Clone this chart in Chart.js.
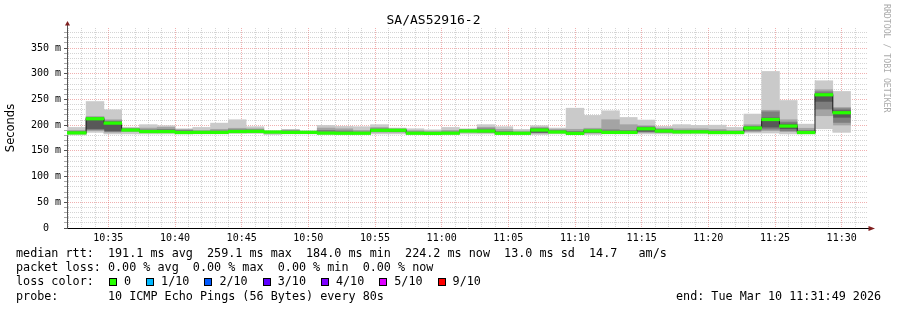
<!DOCTYPE html>
<html>
<head>
<meta charset="utf-8">
<title>SA/AS52916-2</title>
<script src="https://cdn.jsdelivr.net/npm/chart.js@4.4.1/dist/chart.umd.min.js"></script>
<style>
  body { margin: 0; background: #fff; }
  #wrap { position: relative; width: 897px; height: 310px; font-family: 'DejaVu Sans Mono', monospace; font-size: 11.75px; color: #000; }
  #chart { position: absolute; left: 0; top: 0; }
  .row { position: absolute; left: 16px; white-space: pre; line-height: 14px; }
  #lossItems { position: absolute; left: 109px; top: 274px; white-space: pre; line-height: 14px; }
  .item { display: inline-block; margin-right: 15px; }
  .sw { display: inline-block; width: 6px; height: 6px; border: 1px solid #000; margin-right: 7px; vertical-align: -1px; }
  #endTime { position: absolute; left: 676px; top: 289px; white-space: pre; line-height: 14px; }
  #credit { position: absolute; left: 882px; top: 4px; writing-mode: vertical-rl; font-size: 8.2px; color: #aaa; }
</style>
</head>
<body>
<div id="wrap">
  <canvas id="chart" width="897" height="310"></canvas>
  <div class="row" style="top:246px">median rtt:  191.1 ms avg  259.1 ms max  184.0 ms min  224.2 ms now  13.0 ms sd  14.7   am/s</div>
  <div class="row" style="top:260px">packet loss: 0.00 % avg  0.00 % max  0.00 % min  0.00 % now</div>
  <div class="row" style="top:274px">loss color:</div>
  <div id="lossItems"></div>
  <div class="row" style="top:289px">probe:       10 ICMP Echo Pings (56 Bytes) every 80s</div>
  <div id="endTime">end: Tue Mar 10 11:31:49 2026</div>
  <div id="credit">RRDTOOL / TOBI OETIKER</div>
</div>
<script>
// start time of every 80 s probe round
const barStarts = ['10:30:40', '10:32:00', '10:33:20', '10:34:40', '10:36:00', '10:37:20', '10:38:40', '10:40:00',
  '10:41:20', '10:42:40', '10:44:00', '10:45:20', '10:46:40', '10:48:00', '10:49:20', '10:50:40', '10:52:00',
  '10:53:20', '10:54:40', '10:56:00', '10:57:20', '10:58:40', '11:00:00', '11:01:20', '11:02:40', '11:04:00',
  '11:05:20', '11:06:40', '11:08:00', '11:09:20', '11:10:40', '11:12:00', '11:13:20', '11:14:40', '11:16:00',
  '11:17:20', '11:18:40', '11:20:00', '11:21:20', '11:22:40', '11:24:00', '11:25:20', '11:26:40', '11:28:00', '11:29:20'];

// median rtt per round (ms)
const median = [185, 185, 212.5, 204, 190.5, 187.6, 187.6, 185.7, 186, 186, 187.7, 188, 186.6, 186, 186, 184.6,
  184.3, 184.3, 190, 190, 184.3, 184, 184.4, 188.6, 188.6, 184.2, 184.2, 190.5, 186.7, 184, 188.6, 186, 186, 193,
  188.6, 186.9, 187, 185.7, 185.7, 194.4, 211, 198.3, 185.7, 259.1, 224.2];

// lost pings per round (out of 10)
const loss = [0, 0, 0, 0, 0, 0, 0, 0, 0, 0, 0, 0, 0, 0, 0, 0, 0, 0, 0, 0, 0, 0, 0, 0, 0, 0, 0, 0, 0, 0, 0, 0, 0,
  0, 0, 0, 0, 0, 0, 0, 0, 0, 0, 0, 0];

// the 10 sorted ping times of each round (ms), used for the smoke
const pingRows = [
  [181, 182.5, 183.5, 184.5, 184.8, 185.2, 186, 188, 190, 195.6],
  [181, 182.5, 183.5, 184.5, 184.8, 185.2, 186, 188, 190, 195.6],
  [186, 188, 190, 192, 212, 213, 214, 215, 217, 246],
  [183, 185, 186, 188, 203.5, 204.5, 206, 208, 210.6, 230],
  [183, 186, 188, 189.5, 190.2, 190.8, 191.5, 193, 194, 196],
  [183, 185, 186, 187, 187.3, 187.9, 189, 191, 194.4, 201],
  [183, 185, 186, 187, 187.3, 187.9, 189, 192, 196, 199],
  [183, 184, 185, 185.3, 185.5, 185.9, 187, 190, 191.5, 193],
  [183, 184, 185, 185.5, 185.8, 186.2, 187, 188, 190, 195.6],
  [183, 184, 185, 185.5, 185.8, 186.2, 187, 189, 192, 204],
  [184, 185, 186, 187, 187.5, 187.9, 189, 191, 194, 210.6],
  [184, 185, 186, 187, 187.8, 188.2, 189, 191, 193, 197],
  [182, 183, 184, 185.5, 186.4, 186.8, 187.3, 188, 188.5, 189],
  [183, 184, 185, 185.5, 185.8, 186.2, 187, 189, 190.5, 191.8],
  [183, 184, 185, 185.5, 185.8, 186.2, 186.8, 187.5, 188.3, 189],
  [182, 183, 184, 184.3, 184.5, 184.7, 186, 190, 194.4, 199.5],
  [182, 183, 183.5, 184, 184.2, 184.4, 185.5, 189, 193, 197.6],
  [182, 183, 183.5, 184, 184.2, 184.4, 185.5, 187, 190, 197],
  [183, 185, 187, 188.5, 189.8, 190.2, 191, 193, 195.6, 201],
  [183, 185, 186, 187, 189.8, 190.2, 191, 192, 193, 194.4],
  [182, 183, 183.5, 184, 184.2, 184.4, 185.5, 187, 189.5, 193],
  [182, 183, 183.5, 183.8, 183.9, 184.1, 185, 186, 188.5, 191],
  [182, 183, 183.5, 184, 184.2, 184.6, 185.5, 187, 190, 195.6],
  [183, 185, 186.5, 187.5, 188.4, 188.8, 189.5, 190.5, 191.5, 193],
  [183, 184, 185, 186, 188.3, 188.9, 190, 193, 196, 201],
  [182, 183, 183.5, 184, 184.1, 184.3, 185.5, 188, 192, 197],
  [182, 183, 183.5, 184, 184.1, 184.3, 185, 186, 188.5, 191.8],
  [182, 183, 184, 185, 190.3, 190.7, 192, 194, 196, 199],
  [183, 184, 185, 186, 186.5, 186.9, 188, 190, 192, 194.4],
  [182, 183, 183.5, 183.8, 183.9, 184.1, 185, 188, 192, 233],
  [182, 183, 184, 185, 188.4, 188.8, 190, 191, 194, 219],
  [183, 184, 185, 185.5, 185.8, 186.2, 187.5, 191, 210.6, 228],
  [183, 184, 185, 185.5, 185.8, 186.2, 187.5, 190, 201, 215],
  [183, 184.5, 185.5, 187, 192.7, 193.3, 195, 197, 199, 210],
  [183, 184, 185, 186.5, 188.4, 188.8, 190, 192, 194, 197.6],
  [183, 184, 185, 186, 186.7, 187.1, 188, 190, 193, 201],
  [183, 184, 185, 186, 186.8, 187.2, 188, 190, 193, 199.6],
  [183, 184, 184.5, 185, 185.5, 185.9, 187, 189, 192, 200],
  [183, 184, 184.5, 185, 185.5, 185.9, 186.5, 188, 190, 195.6],
  [184.7, 186, 188, 191, 194.2, 194.6, 196, 198, 201, 221.6],
  [184.7, 188, 191, 195, 210.6, 211.4, 214, 226, 229, 304.5],
  [183, 186, 188, 192, 198, 198.6, 202, 206, 210.6, 248],
  [183, 184, 184.5, 185, 185.5, 185.9, 188, 190, 194, 202],
  [193, 217, 230, 245, 259, 259.2, 261, 265, 269, 286.4],
  [186, 199, 204, 214, 224, 224.4, 228, 232, 234.5, 265.6]
];

const timeLabels = ['10:35', '10:40', '10:45', '10:50', '10:55', '11:00', '11:05', '11:10', '11:15', '11:20', '11:25', '11:30'];
const yLabels = [0, 50, 100, 150, 200, 250, 300, 350];
const lossLabels = ['0', '1/10', '2/10', '3/10', '4/10', '5/10', '9/10'];
const lossColors = ['#26ff00', '#00b8ff', '#0059ff', '#5e00ff', '#7e00ff', '#dd00ff', '#ff0000'];
const lossLevels = [0, 1, 2, 3, 4, 5, 9];

const STEP = 80;           // probe interval in seconds
const xMin = '10:31:54';
const xMax = '11:31:54';

function toSec(t) {
    const p = t.split(':').map(Number);
    return p[0] * 3600 + p[1] * 60 + (p[2] || 0);
}

function lossColor(n) {
    let c = lossColors[0];
    lossLevels.forEach((lvl, i) => { if (n >= lvl) c = lossColors[i]; });
    return c;
}

// smokeping shades: darkest near the median, lighter outwards
function smokeShade(k) {
    const half = 5;
    const v = Math.floor(190 / half * Math.abs(half - k)) + 50;
    return 'rgb(' + v + ',' + v + ',' + v + ')';
}

// --- legend swatches ---
const lossBox = document.getElementById('lossItems');
lossLabels.forEach((lbl, i) => {
    const item = document.createElement('span');
    item.className = 'item';
    const sw = document.createElement('span');
    sw.className = 'sw';
    sw.style.background = lossColors[i];
    item.appendChild(sw);
    item.appendChild(document.createTextNode(lbl));
    lossBox.appendChild(item);
});

// --- datasets ---
// bars are not grouped, so each one is as wide as the closest pair of rounds (80 s)
const barOpts = { type: 'bar', xAxisID: 'x', grouped: false, barPercentage: 1, categoryPercentage: 1, borderWidth: 0 };
const datasets = [];

datasets.push(Object.assign({}, barOpts, {
    label: 'median',
    order: 0,
    data: barStarts.map((s, i) => ({ x: toSec(s) + STEP / 2, y: [median[i] - 2.5, median[i] + 2.5] })),
    backgroundColor: loss.map(lossColor)
}));

const medianPts = barStarts.map((s, i) => ({ x: toSec(s), y: median[i] }));
medianPts.push({ x: toSec(barStarts[barStarts.length - 1]) + STEP, y: median[median.length - 1] });
datasets.push({
    type: 'line',
    label: 'median line',
    xAxisID: 'x',
    order: 1,
    data: medianPts,
    stepped: true,
    borderColor: '#202020',
    borderWidth: 1,
    pointRadius: 0,
    fill: false
});

for (let k = 1; k < 10; k++) {
    datasets.push(Object.assign({}, barOpts, {
        label: 'smoke' + k,
        order: 2,
        data: barStarts.map((s, i) => ({ x: toSec(s) + STEP / 2, y: [pingRows[i][k - 1], pingRows[i][k]] })),
        backgroundColor: smokeShade(k)
    }));
}

// --- axis arrows like rrdtool ---
const axisArrows = {
    id: 'axisArrows',
    afterDraw(chart) {
        const { ctx, chartArea: a } = chart;
        ctx.save();
        ctx.lineWidth = 1;
        ctx.strokeStyle = '#555';
        ctx.beginPath();
        ctx.moveTo(a.left + 0.5, a.top);
        ctx.lineTo(a.left + 0.5, a.top - 3);
        ctx.stroke();
        ctx.strokeStyle = '#000';
        ctx.beginPath();
        ctx.moveTo(a.right, a.bottom + 0.5);
        ctx.lineTo(a.right + 2, a.bottom + 0.5);
        ctx.stroke();
        ctx.fillStyle = '#801f1f';
        ctx.beginPath();
        ctx.moveTo(a.left - 2, a.top - 2.5);
        ctx.lineTo(a.left + 3, a.top - 2.5);
        ctx.lineTo(a.left + 0.5, a.top - 7);
        ctx.closePath();
        ctx.fill();
        ctx.beginPath();
        ctx.moveTo(a.right + 1.5, a.bottom - 2);
        ctx.lineTo(a.right + 1.5, a.bottom + 3);
        ctx.lineTo(a.right + 8, a.bottom + 0.5);
        ctx.closePath();
        ctx.fill();
        ctx.restore();
    }
};

const majorX = timeLabels.map(toSec);
const minorGrid = 'rgba(143,143,143,0.38)';
const majorGrid = 'rgba(222,79,79,0.45)';
const monoFont = "'DejaVu Sans Mono'";

new Chart(document.getElementById('chart'), {
    type: 'bar',
    data: { datasets: datasets },
    plugins: [axisArrows],
    options: {
        responsive: false,
        animation: false,
        devicePixelRatio: 1,
        layout: { padding: { left: 0, top: 0.4, right: 30, bottom: 62 } },
        plugins: {
            legend: { display: false },
            tooltip: { enabled: false },
            title: {
                display: true,
                text: 'SA/AS52916-2',
                color: '#000',
                font: { family: monoFont, size: 13, weight: 'normal' },
                padding: { top: 12, bottom: 0 }
            }
        },
        scales: {
            // minute grid only, kept on its own axis so it does not narrow the bars
            xMinor: {
                type: 'linear',
                position: 'bottom',
                offset: false,
                min: toSec(xMin),
                max: toSec(xMax),
                afterBuildTicks: scale => {
                    const ticks = [];
                    for (let t = Math.ceil(scale.min / 60) * 60; t <= scale.max; t += 60) ticks.push({ value: t });
                    scale.ticks = ticks;
                },
                afterFit: scale => { scale.height = 0; },
                ticks: { display: false },
                grid: {
                    offset: false,
                    drawTicks: false,
                    color: ctx => majorX.includes(ctx.tick && ctx.tick.value) ? 'rgba(0,0,0,0)' : minorGrid,
                    lineWidth: 1
                },
                border: { display: false, dash: [1, 1] }
            },
            x: {
                type: 'linear',
                position: 'bottom',
                offset: false,
                min: toSec(xMin),
                max: toSec(xMax),
                afterBuildTicks: scale => { scale.ticks = majorX.map(v => ({ value: v })); },
                afterFit: scale => { scale.height = 20; },
                ticks: {
                    autoSkip: false,
                    maxRotation: 0,
                    padding: 4,
                    color: '#000',
                    font: { family: monoFont, size: 10 },
                    callback: v => timeLabels[majorX.indexOf(v)]
                },
                grid: { offset: false, drawTicks: false, color: majorGrid, lineWidth: 1 },
                border: { display: true, color: '#000', width: 1, dash: [1, 1] }
            },
            y: {
                min: 0,
                max: 389,
                afterBuildTicks: scale => {
                    const ticks = [];
                    for (let v = 0; v <= scale.max; v += 10) ticks.push({ value: v });
                    scale.ticks = ticks;
                },
                afterFit: scale => { scale.width = 67; },
                title: {
                    display: true,
                    text: 'Seconds',
                    color: '#000',
                    font: { family: "'DejaVu Sans'", size: 11.5 },
                    padding: { top: 4, bottom: 0 }
                },
                ticks: {
                    autoSkip: false,
                    padding: 3,
                    color: '#000',
                    font: { family: monoFont, size: 10 },
                    callback: v => yLabels.includes(v) ? (v === 0 ? '0  ' : v + ' m') : ''
                },
                grid: {
                    tickLength: 3,
                    color: ctx => yLabels.includes(ctx.tick && ctx.tick.value) ? majorGrid : minorGrid,
                    tickColor: ctx => yLabels.includes(ctx.tick && ctx.tick.value) ? '#555' : '#aaa',
                    lineWidth: 1
                },
                border: { display: true, color: '#555', width: 1, dash: [1, 1] }
            }
        }
    }
});
</script>
</body>
</html>
